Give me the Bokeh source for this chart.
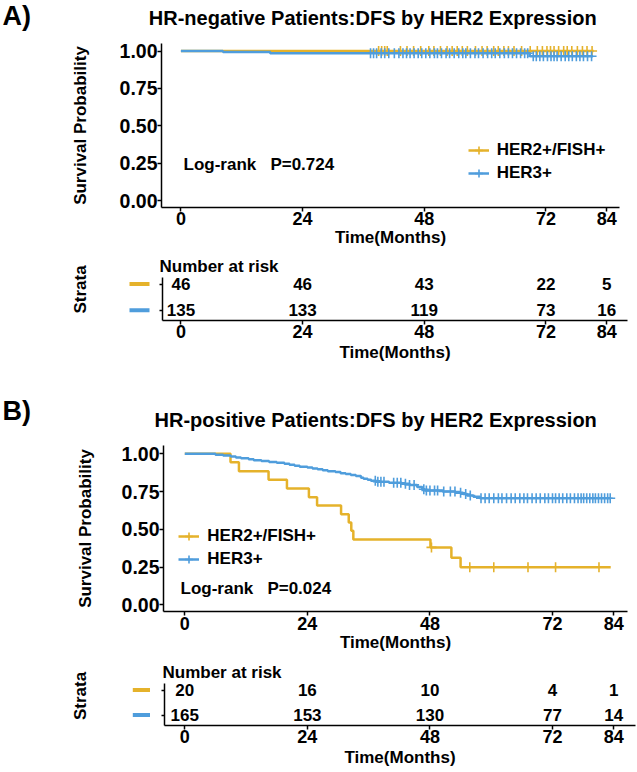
import numpy as np
from bokeh.plotting import figure
from bokeh.layouts import column, row
from bokeh.models import (Range1d, Label, Legend, LegendItem, FixedTicker,
                          NumeralTickFormatter, Title)
from bokeh.core.properties import value
from bokeh.embed import file_html
from bokeh.resources import INLINE

# ------------------------------------------------------------------ data
x_ticks = [0, 24, 48, 72, 84]
y_ticks = [0.0, 0.25, 0.50, 0.75, 1.00]
groups = ["HER2+/FISH+", "HER3+"]
risk_times = [0, 24, 48, 72, 84]

# Panel A : HR-negative
a_tag = "A)"
a_title = "HR-negative Patients:DFS by HER2 Expression"
a_logrank = "Log-rank \u00a0 P=0.724"
a_her2_t = [0.0]
a_her2_s = [1.0]
a_her2_end = 81.4
a_her2_cens = [39.0, 39.6, 40.2, 40.7, 43.3, 44.6, 45.9, 47.3, 48.9, 49.9, 51.2,
               52.5, 53.5, 54.5, 55.5, 56.5, 58.1, 59.4, 60.4, 61.7, 62.6, 63.7,
               64.6, 65.7, 67.2, 68.9, 70.3, 71.3, 72.2, 72.9, 73.6, 74.5, 75.5,
               76.2, 77.1, 78.2, 79.2, 80.1, 81.1]
a_her3_t = [0.0, 8.3, 17.6, 68.8]
a_her3_s = [1.0, 0.993, 0.985, 0.965]
a_her3_end = 81.3
a_her3_cens = [37.4, 38.0, 38.6, 39.5, 40.2, 41.0, 42.1, 43.0, 43.8, 44.5, 45.2,
               46.0, 46.8, 47.5, 48.3, 49.1, 50.0, 50.6, 51.4, 52.3, 53.0, 53.9,
               54.8, 55.6, 56.2, 57.1, 58.0, 58.7, 59.6, 60.5, 61.3, 62.0, 62.9,
               63.8, 64.6, 65.4, 66.2, 67.0, 67.8, 68.4, 69.5, 70.1, 70.8, 71.5,
               72.3, 73.0, 73.6, 74.2, 75.0, 75.8, 76.5, 77.2, 78.0, 78.7, 79.4,
               80.2, 81.0]
a_risk_her2 = [46, 46, 43, 22, 5]
a_risk_her3 = [135, 133, 119, 73, 16]

# Panel B : HR-positive
b_tag = "B)"
b_title = "HR-positive Patients:DFS by HER2 Expression"
b_logrank = "Log-rank \u00a0 P=0.024"
b_her2_t = [0.0, 8.95, 10.6, 16.4, 20.0, 24.3, 25.9, 30.6, 32.1, 32.6, 33.0, 48.1, 52.2, 54.0]
b_her2_s = [1.0, 0.944, 0.885, 0.828, 0.770, 0.713, 0.657, 0.600, 0.545, 0.490, 0.433, 0.380, 0.312, 0.249]
b_her2_end = 83.4
b_her2_cens = [48.3, 55.8, 60.5, 67.2, 72.6, 81.1]
b_her3_t = [0.0, 6.0, 7.5, 9.0, 10.0, 11.0, 12.5, 13.5, 15.0, 16.5, 18.0, 19.5, 20.5,
            21.5, 22.5, 24.0, 25.0, 26.0, 27.0, 28.0, 29.5, 30.5, 31.5, 32.5, 33.5,
            34.5, 35.0, 35.8, 36.5, 37.5, 40.0, 42.5, 44.0, 45.5, 46.5, 47.0, 50.5,
            53.0, 54.5, 55.3, 56.5, 57.8]
b_her3_s = [1.0, 0.994, 0.988, 0.982, 0.976, 0.970, 0.964, 0.958, 0.952, 0.946, 0.940,
            0.934, 0.927, 0.921, 0.915, 0.909, 0.903, 0.897, 0.891, 0.885, 0.879, 0.872,
            0.866, 0.860, 0.853, 0.841, 0.835, 0.828, 0.822, 0.815, 0.808, 0.801, 0.794,
            0.780, 0.765, 0.757, 0.750, 0.742, 0.733, 0.724, 0.715, 0.706]
b_her3_end = 83.4
b_her3_cens = [37.3, 37.8, 38.4, 39.0, 40.9, 41.6, 42.3, 43.2, 44.0, 44.9, 46.8, 47.3,
               48.0, 48.9, 49.5, 50.7, 52.0, 52.9, 54.0, 55.0, 55.9, 58.0, 58.8, 59.6,
               60.5, 61.4, 62.1, 63.0, 63.9, 64.7, 65.6, 66.4, 67.1, 68.0, 68.8, 69.6,
               70.5, 71.2, 72.0, 72.6, 73.3, 74.0, 74.8, 75.5, 76.3, 77.0, 77.6, 78.1,
               78.7, 79.3, 79.9, 80.4, 81.0, 81.6, 82.2, 82.8, 83.3]
b_risk_her2 = [20, 16, 10, 4, 1]
b_risk_her3 = [165, 153, 130, 77, 14]

# ------------------------------------------------------------------ style
W = 637
FONT = "Liberation Sans"
GOLD = "#E5B22B"
BLUE = "#4F9DDC"
COLORS = [GOLD, BLUE]
SW = 150  # width of the strata-key strip left of the risk tables


def surv_at(t, s, tc):
    idx = np.searchsorted(np.asarray(t), np.asarray(tc), side="right") - 1
    return np.asarray(s)[idx]


def base_fig(**kw):
    p = figure(output_backend="svg", toolbar_location=None, title=None, **kw)
    p.outline_line_color = None
    p.background_fill_color = "white"
    p.border_fill_color = "white"
    return p


def style_axis(ax, tick_size="18px", s1=0, s2=0):
    ax.axis_line_width = 1.5
    ax.axis_line_color = "black"
    ax.major_tick_line_width = 1.5
    ax.major_tick_line_color = "black"
    ax.major_tick_out = 4
    ax.major_tick_in = 0
    ax.minor_tick_out = 0
    ax.minor_tick_in = 0
    ax.major_label_text_font = FONT
    ax.major_label_text_font_style = "bold"
    ax.major_label_text_font_size = tick_size
    ax.major_label_text_color = "black"
    ax.major_label_standoff = s1
    ax.axis_label_text_font = FONT
    ax.axis_label_text_font_style = "bold"
    ax.axis_label_text_font_size = "17px"
    ax.axis_label_text_color = "black"
    ax.axis_label_standoff = s2


def add_text(p, x, y, text, size, align="left", angle=0.0):
    p.add_layout(Label(x=x, y=y, text=text, text_font=FONT, text_font_size=size,
                       text_font_style="bold", text_color="black", text_align=align,
                       text_baseline="middle", angle=angle))


def header(height, tag, tag_pos, title, title_pos):
    # a text strip whose frame covers the whole canvas (pixel coordinates)
    h = base_fig(width=W, height=height, x_range=Range1d(0, W), y_range=Range1d(height, 0),
                 min_border=0, min_border_left=0, min_border_right=0, min_border_top=0,
                 min_border_bottom=0, x_axis_location=None, y_axis_location=None)
    h.grid.visible = False
    add_text(h, tag_pos[0], tag_pos[1], tag, "27px")
    add_text(h, title_pos[0], title_pos[1], title, "20px")
    return h


def km_panel(canvas_top, height, frame, xcal, ycal, curves, legend_px, logrank,
             logrank_px, ystand, xs1, xs2):
    fl, fr, ft, fb = frame
    x0, sx = xcal
    y0, sy = ycal
    px2x = lambda px: (px - x0) / sx
    py2y = lambda py: (y0 - py) / sy
    p = base_fig(width=W, height=height, x_range=Range1d(px2x(fl), px2x(fr)),
                 y_range=Range1d(py2y(fb), py2y(ft)), min_border_left=fl,
                 min_border_right=W - fr, min_border_top=ft - canvas_top,
                 min_border_bottom=canvas_top + height - fb)
    p.grid.visible = False

    items = []
    for (t, s, end, cens, color, lab) in curves:
        xs = list(t) + [end]
        ys = list(s) + [s[-1]]
        r1 = p.step(x=xs, y=ys, mode="after", line_color=color, line_width=2.5)
        r2 = p.scatter(x=cens, y=surv_at(t, s, cens), marker="cross", size=10,
                       line_color=color, line_width=1.6)
        items.append((lab, [r1, r2]))
    items_sorted = sorted(items, key=lambda it: groups.index(it[0]))
    leg = Legend(items=[LegendItem(label=l, renderers=r) for l, r in items_sorted],
                 location=(legend_px[0] - fl, fb - legend_px[1]),
                 padding=0, margin=0, spacing=3, glyph_width=21, glyph_height=20,
                 label_height=20, label_standoff=8, border_line_alpha=0,
                 background_fill_alpha=0, label_text_font=FONT,
                 label_text_font_style="bold", label_text_font_size="17px",
                 label_text_color="black")
    p.add_layout(leg)

    p.xaxis.ticker = FixedTicker(ticks=x_ticks)
    p.yaxis.ticker = FixedTicker(ticks=y_ticks)
    p.yaxis.formatter = NumeralTickFormatter(format="0.00")
    p.xaxis.axis_label = "Time(Months)"
    p.yaxis.axis_label = "Survival Probability"
    style_axis(p.xaxis[0], s1=xs1, s2=xs2)
    style_axis(p.yaxis[0], tick_size="19.5px", s1=0, s2=ystand)
    add_text(p, px2x(logrank_px[0]), py2y(logrank_px[1]), logrank, "17px")
    return p


def risk_panel(canvas_top, height, frame, xcal, rows_px, counts, label_off, xs1, xs2,
               dash_px, strata_off):
    fl, fr, ft, fb = frame
    x0, sx = xcal
    r2, r1 = rows_px
    su = r1 - r2
    px2x = lambda px: (px - x0) / sx
    py2y = lambda py: 1 + (r1 - py) / su
    yr = Range1d(py2y(fb), py2y(ft))
    p = base_fig(width=W - SW, height=height, x_range=Range1d(px2x(fl), px2x(fr)),
                 y_range=yr, min_border_left=fl - SW, min_border_right=W - fr,
                 min_border_top=ft - canvas_top, min_border_bottom=canvas_top + height - fb)
    p.grid.visible = False
    xs = list(risk_times) + list(risk_times)
    ys = [2] * len(risk_times) + [1] * len(risk_times)
    txt = [str(v) for v in counts[0]] + [str(v) for v in counts[1]]
    p.text(x=xs, y=ys, text=txt, text_font=value(FONT), text_font_style="bold",
           text_font_size="17px", text_align="center", text_baseline="middle",
           text_color="black")
    p.xaxis.ticker = FixedTicker(ticks=x_ticks)
    p.xaxis.axis_label = "Time(Months)"
    style_axis(p.xaxis[0], s1=xs1, s2=xs2)
    p.yaxis.ticker = FixedTicker(ticks=[1, 2])
    style_axis(p.yaxis[0], tick_size="1px")
    p.yaxis.major_label_text_alpha = 0
    p.yaxis.major_tick_out = 3
    p.add_layout(Title(text="Number at risk", align="left", offset=label_off,
                       standoff=4, text_font=FONT, text_font_size="17px",
                       text_font_style="bold", text_color="black"), "above")

    s = base_fig(width=SW, height=height, x_range=Range1d(90, SW), y_range=yr,
                 min_border_left=90, min_border_right=0,
                 min_border_top=ft - canvas_top,
                 min_border_bottom=canvas_top + height - fb,
                 x_axis_location=None, y_axis_location=None)
    s.grid.visible = False
    s.segment(x0=[dash_px[0]] * 2, x1=[dash_px[1]] * 2, y0=[2, 1], y1=[2, 1],
              line_color=COLORS, line_width=4)
    s.add_layout(Title(text="Strata", align="left", offset=strata_off, standoff=0,
                       vertical_align="middle", text_font=FONT, text_font_size="17px",
                       text_font_style="bold", text_color="black"), "left")
    return row(s, p, spacing=0)


curves_a = [(a_her2_t, a_her2_s, a_her2_end, a_her2_cens, GOLD, groups[0]),
            (a_her3_t, a_her3_s, a_her3_end, a_her3_cens, BLUE, groups[1])]
curves_b = [(b_her2_t, b_her2_s, b_her2_end, b_her2_cens, GOLD, groups[0]),
            (b_her3_t, b_her3_s, b_her3_end, b_her3_cens, BLUE, groups[1])]

ha = header(33, a_tag, (2, 15), a_title, (148.3, 17))
f1 = km_panel(33, 218, (161, 619, 43, 207), (180.4, 5.07), (200.0, 149.5), curves_a,
              (467.7, 183.0), a_logrank, (183, 163.5), 27, 0, 0)
ra = risk_panel(251, 141, (162, 627, 277, 320), (180.4, 5.07), (283.5, 309.8),
                (a_risk_her2, a_risk_her3), -3, 0, 2, (129, 149), 7)
hb = header(45, b_tag, (2, 410.7 - 392), b_title, (154, 419.3 - 392))
f3 = km_panel(437, 219, (163, 627, 445, 611), (184.3, 5.107), (604.3, 151.0), curves_b,
              (178.3, 569.0), b_logrank, (180, 588.3), 24, 1, 0)
rb = risk_panel(656, 116, (164, 635, 683, 725), (184.3, 5.107), (689.5, 714.5),
                (b_risk_her2, b_risk_her3), -2, 0, 2, (132.3, 152.3), 5.5)

# each block sits in its own row so that the column does not align their frames
layout = column(row(ha), row(f1), ra, row(hb), row(f3), rb, spacing=0)
open("out.html", "w").write(file_html(layout, INLINE))
